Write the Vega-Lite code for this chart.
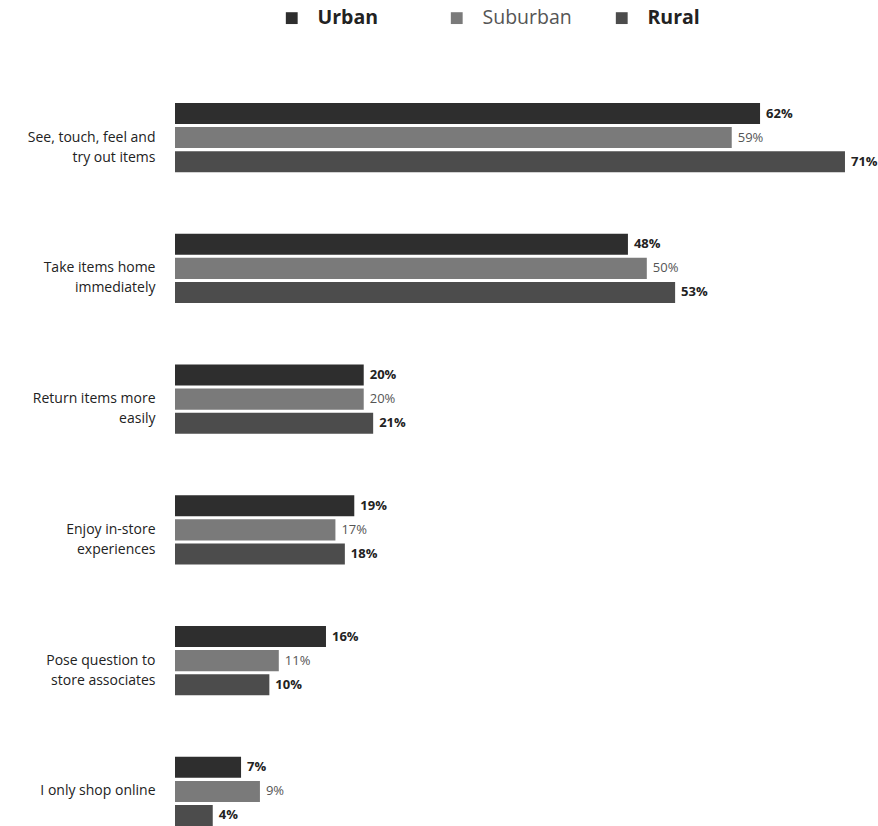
{
  "$schema": "https://vega.github.io/schema/vega-lite/v6.json",
  "autosize": {"type": "none"},
  "padding": {"left": 175, "top": 103, "right": 0, "bottom": 0},
  "width": 703,
  "height": 723,
  "background": "white",
  "config": {"view": {"stroke": null}, "font": "Open Sans"},
  "data": {
    "values": [
      {"reason": "See, touch, feel and try out items", "region": "Urban", "value": 0.62},
      {"reason": "See, touch, feel and try out items", "region": "Suburban", "value": 0.59},
      {"reason": "See, touch, feel and try out items", "region": "Rural", "value": 0.71},
      {"reason": "Take items home immediately", "region": "Urban", "value": 0.48},
      {"reason": "Take items home immediately", "region": "Suburban", "value": 0.50},
      {"reason": "Take items home immediately", "region": "Rural", "value": 0.53},
      {"reason": "Return items more easily", "region": "Urban", "value": 0.20},
      {"reason": "Return items more easily", "region": "Suburban", "value": 0.20},
      {"reason": "Return items more easily", "region": "Rural", "value": 0.21},
      {"reason": "Enjoy in-store experiences", "region": "Urban", "value": 0.19},
      {"reason": "Enjoy in-store experiences", "region": "Suburban", "value": 0.17},
      {"reason": "Enjoy in-store experiences", "region": "Rural", "value": 0.18},
      {"reason": "Pose question to store associates", "region": "Urban", "value": 0.16},
      {"reason": "Pose question to store associates", "region": "Suburban", "value": 0.11},
      {"reason": "Pose question to store associates", "region": "Rural", "value": 0.10},
      {"reason": "I only shop online", "region": "Urban", "value": 0.07},
      {"reason": "I only shop online", "region": "Suburban", "value": 0.09},
      {"reason": "I only shop online", "region": "Rural", "value": 0.04}
    ]
  },
  "encoding": {
    "y": {
      "field": "reason",
      "type": "nominal",
      "sort": null,
      "scale": {"paddingInner": 0.4709, "paddingOuter": 0},
      "axis": {
        "title": null,
        "domain": false,
        "ticks": false,
        "labelPadding": 20,
        "labelFontSize": 14,
        "labelColor": "#222222",
        "labelFont": "Open Sans",
        "labelLimit": 250,
        "labelLineHeight": 20,
        "labelExpr": "datum.label == 'See, touch, feel and try out items' ? ['See, touch, feel and', 'try out items'] : datum.label == 'Take items home immediately' ? ['Take items home', 'immediately'] : datum.label == 'Return items more easily' ? ['Return items more', 'easily'] : datum.label == 'Enjoy in-store experiences' ? ['Enjoy in-store', 'experiences'] : datum.label == 'Pose question to store associates' ? ['Pose question to', 'store associates'] : datum.label"
      }
    },
    "yOffset": {
      "field": "region",
      "type": "nominal",
      "sort": ["Urban", "Suburban", "Rural"],
      "scale": {"paddingInner": 0.125, "paddingOuter": 0}
    },
    "x": {
      "field": "value",
      "type": "quantitative",
      "scale": {"domain": [0, 0.745], "nice": false},
      "axis": null
    }
  },
  "layer": [
    {
      "mark": {"type": "bar"},
      "encoding": {
        "color": {
          "field": "region",
          "type": "nominal",
          "sort": ["Urban", "Suburban", "Rural"],
          "scale": {"domain": ["Urban", "Suburban", "Rural"], "range": ["#2e2e2e", "#7a7a7a", "#4c4c4c"]},
          "legend": {
            "title": null,
            "orient": "none",
            "direction": "horizontal",
            "legendX": 107,
            "legendY": -95,
            "symbolType": "square",
            "symbolSize": 140,
            "symbolStrokeWidth": 0,
            "labelFontSize": 19.5,
            "labelFont": "Open Sans",
            "labelOffset": 16,
            "columnPadding": 40,
            "gridAlign": "all",
            "encode": {
              "labels": {
                "update": {
                  "fontWeight": {"signal": "datum.label == 'Suburban' ? 'normal' : 'bold'"},
                  "fill": {"signal": "datum.label == 'Suburban' ? '#555555' : '#222222'"}
                }
              }
            }
          }
        }
      }
    },
    {
      "transform": [{"filter": "datum.region != 'Suburban'"}],
      "mark": {"type": "text", "align": "left", "dx": 6, "fontSize": 13, "fontWeight": "bold", "color": "#222222", "font": "Open Sans"},
      "encoding": {"text": {"field": "value", "type": "quantitative", "format": ".0%"}}
    },
    {
      "transform": [{"filter": "datum.region == 'Suburban'"}],
      "mark": {"type": "text", "align": "left", "dx": 6, "fontSize": 13, "fontWeight": "normal", "color": "#555555", "font": "Open Sans"},
      "encoding": {"text": {"field": "value", "type": "quantitative", "format": ".0%"}}
    }
  ]
}
